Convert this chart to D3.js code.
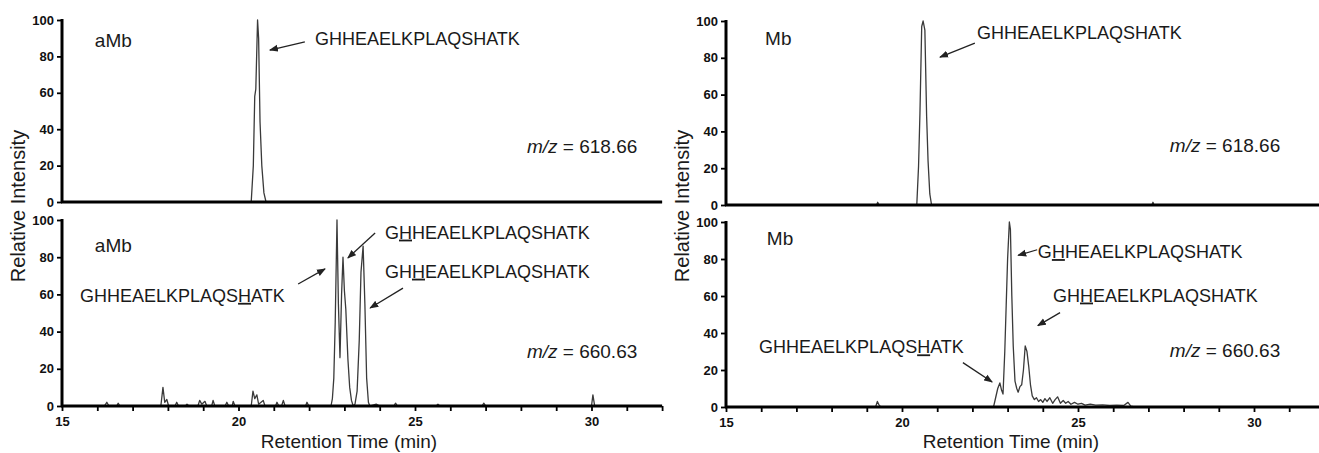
<!DOCTYPE html>
<html>
<head>
<meta charset="utf-8">
<script src="https://cdn.jsdelivr.net/npm/d3@7"></script>
<style>
  body { margin: 0; background: #fff; }
  svg { display: block; font-family: "Liberation Sans", Arial, sans-serif; }
  .trace { fill: none; stroke: #3a3a3a; stroke-width: 1.3; stroke-linejoin: round; }
  .axisline { stroke: #000; stroke-width: 3; }
  .tick line { stroke: #000; stroke-width: 1.8; }
  .ticklab { font-size: 13px; font-weight: bold; fill: #111; }
  .pep { font-size: 18px; fill: #1a1a1a; }
  .mz { font-size: 19px; fill: #1a1a1a; }
  .tag { font-size: 19px; fill: #1a1a1a; }
  .atitle { font-size: 19px; fill: #1a1a1a; }
  .ytitle { font-size: 20px; fill: #1a1a1a; }
  .arrow { stroke: #222; stroke-width: 1.3; }
</style>
</head>
<body>
<div id="chart"></div>
<script>

// set up figure

var width = 1319,
  height = 453;

var xDomain = [15, 32];
var xLabelTicks = [15, 20, 25, 30];
var xMinorTicks = d3.range(15, 33, 1);
var yTicks = [0, 20, 40, 60, 80, 100];

// chromatogram traces: [retention time (min), relative intensity]

var aMb_618 = [[15,0],[20.36,0],[20.42,20],[20.46,58],[20.49,62],[20.54,100],[20.57,90],[20.61,44],
  [20.66,20],[20.72,5],[20.78,0],[32,0]];

var aMb_660 = [[15,0],[16.2,0],[16.27,2],[16.33,0],[16.55,0],[16.59,1.5],[16.64,0],[17.8,0],[17.86,10],
  [17.91,2],[17.97,3.5],[18.02,0],[18.2,0],[18.25,2],[18.3,0],[18.5,0],[18.54,1],[18.6,0],[18.85,0],
  [18.9,3],[18.96,1],[19.05,2.5],[19.1,0],[19.24,0],[19.28,3],[19.33,0],[19.62,0],[19.67,2],[19.72,0],
  [19.82,0],[19.85,2.5],[19.9,0],[20.36,0],[20.41,8],[20.46,4],[20.52,6],[20.57,1],[20.7,3],[20.75,0],
  [21.05,0],[21.09,2],[21.14,0],[21.22,0],[21.27,3],[21.32,0],[21.9,0],[21.94,2],[21.99,0],[22.62,0],
  [22.66,4],[22.70,15],[22.74,45],[22.79,100],[22.83,55],[22.875,26],[22.92,60],[22.96,80],[23.0,62],
  [23.04,52],[23.10,25],[23.15,10],[23.2,3],[23.25,0],[23.3,1],[23.36,8],[23.42,35],[23.47,72],
  [23.53,86],[23.58,55],[23.63,15],[23.68,2],[23.72,0],[23.9,1],[24.0,0],[24.4,0],[24.45,1.5],[24.5,0],
  [25.6,0],[25.65,1],[25.7,0],[26.9,0],[26.95,1.5],[27.0,0],[30.0,0],[30.04,6],[30.09,0],[32,0]];

var Mb_618 = [[15,0],[19.28,0],[19.31,1.5],[19.34,0],[20.42,0],[20.47,21],[20.51,50],[20.56,97],
  [20.6,100],[20.65,95],[20.7,48],[20.74,24],[20.79,6],[20.84,0],[27.1,0],[27.13,1.5],[27.16,0],[32,0]];

var Mb_660 = [[15,0],[19.25,0],[19.3,3],[19.35,1],[19.4,0],[22.6,0],[22.66,5],[22.72,10],[22.78,13],
  [22.83,9],[22.87,7],[22.92,30],[22.96,55],[23.0,80],[23.05,100],[23.08,96],[23.12,60],[23.16,33],
  [23.21,14],[23.26,10],[23.3,8],[23.35,11],[23.4,12],[23.45,20],[23.5,33],[23.55,30],[23.6,22],
  [23.65,12],[23.7,6],[23.76,4],[23.82,5],[23.88,3],[23.94,4],[24.0,2.5],[24.06,4.5],[24.12,3],
  [24.2,5],[24.28,2],[24.35,4],[24.42,5.5],[24.5,2],[24.58,3.5],[24.65,2],[24.72,3],[24.8,1.5],
  [24.9,2.5],[25.0,1.5],[25.1,2],[25.2,1],[25.35,1.5],[25.5,1],[25.7,1.2],[25.9,0.8],[26.1,1],
  [26.3,0.8],[26.42,2.5],[26.5,0.5],[26.6,0],[32,0]];

// peptide labels: index of underlined residue (-1 = none), [t, v] anchor, arrow [t0,v0,t1,v1]

var peptide = "GHHEAELKPLAQSHATK";

var aMb_618_labels = [
  { u: -1, at: [22.17, 86], arrow: [21.88, 88, 20.89, 83.5] }
];
var aMb_660_labels = [
  { u: 1, at: [24.15, 90], arrow: [23.87, 93, 23.10, 79.6] },
  { u: 2, at: [24.15, 69], arrow: [24.66, 63.4, 23.73, 52.7] },
  { u: 13, at: [15.51, 56], arrow: [21.69, 65.6, 22.45, 73.7] }
];
var Mb_618_labels = [
  { u: -1, at: [22.13, 90], arrow: [22.07, 88, 21.08, 80.4] }
];
var Mb_660_labels = [
  { u: 1, at: [23.86, 80.5], arrow: [23.84, 85, 23.30, 82] },
  { u: 2, at: [24.29, 57], arrow: [24.49, 51, 23.86, 44] },
  { u: 13, at: [15.94, 29], arrow: [21.73, 24, 22.56, 13.5] }
];

var panels = [
  { data: aMb_618, tag: "aMb", mz: "618.66", labels: aMb_618_labels, x0: 62, px: 35.3, y: [202, 20], tagAt: [15.93, 85], mzAt: [28.17, 27], xaxis: false },
  { data: aMb_660, tag: "aMb", mz: "660.63", labels: aMb_660_labels, x0: 62, px: 35.3, y: [406, 220], tagAt: [15.93, 83], mzAt: [28.17, 26], xaxis: true },
  { data: Mb_618, tag: "Mb", mz: "618.66", labels: Mb_618_labels, x0: 726, px: 35.2, y: [205, 21], tagAt: [16.11, 87], mzAt: [27.61, 29], xaxis: false },
  { data: Mb_660, tag: "Mb", mz: "660.63", labels: Mb_660_labels, x0: 726, px: 35.2, y: [407, 222], tagAt: [16.16, 87.5], mzAt: [27.61, 27], xaxis: true }
];

var svg = d3.select("#chart").append("svg")
  .attr("width", width)
  .attr("height", height);

// arrowhead

svg.append("defs").append("marker")
  .attr("id", "head")
  .attr("viewBox", "0 -4 9 8")
  .attr("refX", 8)
  .attr("refY", 0)
  .attr("markerUnits", "userSpaceOnUse")
  .attr("markerWidth", 9)
  .attr("markerHeight", 8)
  .attr("orient", "auto")
  .append("path")
  .attr("d", "M0,-3.5L9,0L0,3.5Z")
  .attr("fill", "#222");

panels.forEach(function(p) {
  var x = d3.scaleLinear()
    .domain(xDomain)
    .range([p.x0, p.x0 + (xDomain[1] - xDomain[0]) * p.px]);
  var y = d3.scaleLinear()
    .domain([0, 100])
    .range(p.y);

  var g = svg.append("g");

  // trace

  var line = d3.line()
    .x(function(d) { return x(d[0]); })
    .y(function(d) { return y(d[1]); });

  g.append("path")
    .datum(p.data)
    .attr("class", "trace")
    .attr("d", line);

  // y axis

  var ya = g.append("g")
    .attr("transform", "translate(" + p.x0 + ",0)")
    .call(d3.axisLeft(y).tickValues(yTicks).tickSize(5).tickPadding(3));
  ya.select(".domain").remove();
  ya.selectAll("text").attr("class", "ticklab").attr("font-size", null).attr("font-family", null);

  g.append("line")
    .attr("class", "axisline")
    .attr("x1", p.x0).attr("x2", p.x0)
    .attr("y1", y(100) - 1).attr("y2", y(0) + 1);

  // x axis

  if (p.xaxis) {
    var xa = g.append("g")
      .attr("transform", "translate(0," + y(0) + ")")
      .call(d3.axisBottom(x).tickValues(xMinorTicks).tickSize(5).tickPadding(6)
        .tickFormat(function(d) { return xLabelTicks.indexOf(d) >= 0 ? d : ""; }));
    xa.select(".domain").remove();
    xa.selectAll("text").attr("class", "ticklab").attr("font-size", null).attr("font-family", null);
  }

  g.append("line")
    .attr("class", "axisline")
    .attr("x1", p.x0 - 1).attr("x2", x(xDomain[1]))
    .attr("y1", y(0)).attr("y2", y(0));

  // sample tag and m/z

  g.append("text")
    .attr("class", "tag")
    .attr("x", x(p.tagAt[0]))
    .attr("y", y(p.tagAt[1]))
    .text(p.tag);

  var mz = g.append("text")
    .attr("class", "mz")
    .attr("x", x(p.mzAt[0]))
    .attr("y", y(p.mzAt[1]));
  mz.append("tspan").style("font-style", "italic").text("m/z");
  mz.append("tspan").text(" = " + p.mz);

  // peptide labels with arrows

  p.labels.forEach(function(l) {
    var t = g.append("text")
      .attr("class", "pep")
      .attr("x", x(l.at[0]))
      .attr("y", y(l.at[1]));
    if (l.u < 0) {
      t.text(peptide);
    } else {
      t.append("tspan").text(peptide.slice(0, l.u));
      t.append("tspan").style("text-decoration", "underline").text(peptide[l.u]);
      t.append("tspan").text(peptide.slice(l.u + 1));
    }
    g.append("line")
      .attr("class", "arrow")
      .attr("x1", x(l.arrow[0])).attr("y1", y(l.arrow[1]))
      .attr("x2", x(l.arrow[2])).attr("y2", y(l.arrow[3]))
      .attr("marker-end", "url(#head)");
  });
});

// axis titles

[25, 689].forEach(function(bx) {
  svg.append("text")
    .attr("class", "ytitle")
    .attr("transform", "translate(" + bx + ",206) rotate(-90)")
    .attr("text-anchor", "middle")
    .text("Relative Intensity");
});

[349, 1011].forEach(function(cx) {
  svg.append("text")
    .attr("class", "atitle")
    .attr("x", cx)
    .attr("y", 448)
    .attr("text-anchor", "middle")
    .text("Retention Time (min)");
});

</script>
</body>
</html>
